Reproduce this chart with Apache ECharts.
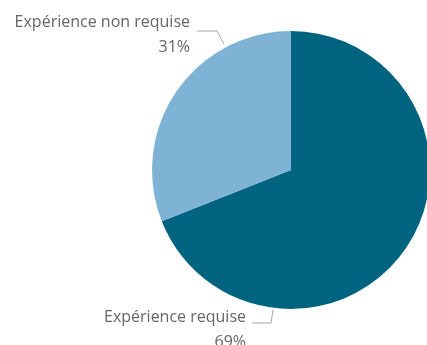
<!DOCTYPE html>
<html><head><meta charset="utf-8">
<script src="https://cdn.jsdelivr.net/npm/echarts@6/dist/echarts.min.js"></script>
<style>html,body{margin:0;padding:0;background:#fff}#c{width:427px;height:345px}</style>
</head><body><div id="c"></div>
<script>
const categories = ["Expérience requise", "Expérience non requise"];
const values = [69, 31];
const colors = ["#00637f", "#7fb3d5"];

const labelPos = [
  { x: 246, y: 330, line: [[273, 310], [271, 323], [252, 323]] },
  { x: 190, y: 35, line: [[224, 44], [217, 31], [197, 31]] }
];

const chart = echarts.init(document.getElementById('c'));
chart.setOption({
  animation: false,
  series: [{
    type: 'pie',
    center: [291, 170],
    radius: 139,
    startAngle: 90,
    clockwise: true,
    avoidLabelOverlap: false,
    data: categories.map((n, i) => ({ name: n, value: values[i], itemStyle: { color: colors[i] } })),
    label: {
      show: true,
      position: 'outside',
      formatter: p => p.name + '\n' + p.value + '%',
      fontFamily: 'Open Sans',
      fontSize: 16,
      lineHeight: 25,
      color: '#666666',
      align: 'right',
      overflow: 'none',
      width: 300
    },
    labelLine: { show: true, lineStyle: { color: '#a6a6a6', width: 1 } },
    labelLayout: p => {
      const lp = labelPos[p.dataIndex];
      return { x: lp.x, y: lp.y, align: 'right', verticalAlign: 'middle', labelLinePoints: lp.line, hideOverlap: false, moveOverlap: null };
    },
    emphasis: { disabled: true }
  }]
});
</script></body></html>
